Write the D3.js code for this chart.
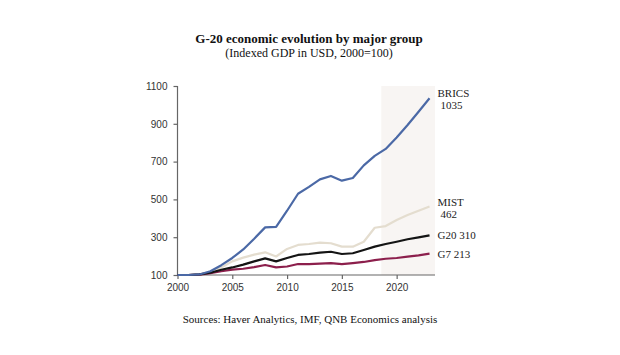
<!DOCTYPE html>
<html><head><meta charset="utf-8">
<script src="https://cdn.jsdelivr.net/npm/d3@7"></script>
<style>body{margin:0;background:#fff}svg{display:block}</style>
</head><body>
<svg id="c" width="620" height="355"></svg>
<script>
const years = d3.range(2000, 2024);
const brics = [100,100,103,120,152,190,235,292,352,355,440,530,566,606,624,599,613,680,730,767,828,894,964,1035];
const mist  = [100,100,104,115,140,172,192,208,220,198,238,259,264,271,268,250,250,276,350,359,391,417,440,462];
const g20   = [100,100,103,112,128,140,155,172,188,172,190,206,211,218,223,211,215,232,250,264,276,289,299,310];
const g7    = [100,100,102,110,120,128,133,142,153,140,145,158,158,160,163,158,163,169,179,186,190,197,204,213];
const yTicks = [100,300,500,700,900,1100];
const xTicks = [2000,2005,2010,2015,2020];
const shadeRange = [2018.6, 2023.5];
const seriesNames = ["MIST","G7","G20","BRICS"];
const seriesColors = {BRICS:"#4b69a6", MIST:"#e4ddcf", G20:"#141414", G7:"#8c1f4c"};
const seriesData = {BRICS:brics, MIST:mist, G20:g20, G7:g7};

const svg = d3.select("#c");
const x = d3.scaleLinear().domain([2000, 2023.5]).range([177.5, 435]);
const y = d3.scaleLinear().domain([100, 1100]).range([275, 86]);

// shaded projection area
svg.append("rect")
  .attr("x", x(shadeRange[0])).attr("y", y(1100))
  .attr("width", x(shadeRange[1]) - x(shadeRange[0]))
  .attr("height", y(100) - y(1100))
  .attr("fill", "#f8f5f3");

// axes
const yAxis = svg.append("g").attr("transform", `translate(${x(2000)},0)`)
  .call(d3.axisLeft(y).tickValues(yTicks).tickFormat(d3.format("d")).tickSize(4).tickPadding(6));
const xAxis = svg.append("g").attr("transform", `translate(0,${y(100)})`)
  .call(d3.axisBottom(x).tickValues(xTicks).tickFormat(d3.format("d")).tickSize(4).tickPadding(5));
[yAxis, xAxis].forEach(g => {
  g.selectAll("path,line").attr("stroke", "#666").attr("stroke-width", 1.2);
  g.selectAll("text").attr("fill", "#333").style("font-family", "Liberation Sans, Arial, sans-serif").style("font-size", "10px");
});
xAxis.select(".domain").attr("d", `M${x(2000)},0H${x(2023.5)}`);
yAxis.select(".domain").attr("d", `M0,${y(1100)}V${y(100)}`);

// lines
const line = d3.line().x((d,i) => x(years[i])).y(d => y(d));
seriesNames.forEach(n => {
  svg.append("path").datum(seriesData[n])
    .attr("fill", "none").attr("stroke", seriesColors[n])
    .attr("stroke-width", 2.2).attr("stroke-linejoin", "round")
    .attr("d", line);
});

// titles
const serif = "Liberation Serif, Times New Roman, serif";
svg.append("text").attr("x", 309).attr("y", 43).attr("text-anchor", "middle")
  .style("font-family", serif).style("font-size", "13px").style("font-weight", "bold").attr("fill", "#111")
  .text("G-20 economic evolution by major group");
svg.append("text").attr("x", 309).attr("y", 57).attr("text-anchor", "middle")
  .style("font-family", serif).style("font-size", "12px").attr("fill", "#111")
  .text("(Indexed GDP in USD, 2000=100)");
svg.append("text").attr("x", 310).attr("y", 323).attr("text-anchor", "middle")
  .style("font-family", serif).style("font-size", "11px").attr("fill", "#111")
  .text("Sources: Haver Analytics, IMF, QNB Economics analysis");

// end labels
const lx = x(2023) + 8;
const labels = [
  {t:"BRICS", v:brics[23], dx:0, dy:-1},
  {t:"1035", v:brics[23], dx:3, dy:11},
  {t:"MIST", v:mist[23], dx:0, dy:-1},
  {t:"462", v:mist[23], dx:3, dy:11},
  {t:"G20 310", v:g20[23], dx:0, dy:4},
  {t:"G7 213", v:g7[23], dx:0, dy:4}
];
labels.forEach(l => {
  svg.append("text").attr("x", lx + l.dx).attr("y", y(l.v) + l.dy)
    .style("font-family", serif).style("font-size", "11px").attr("fill", "#222")
    .text(l.t);
});
</script>
</body></html>
